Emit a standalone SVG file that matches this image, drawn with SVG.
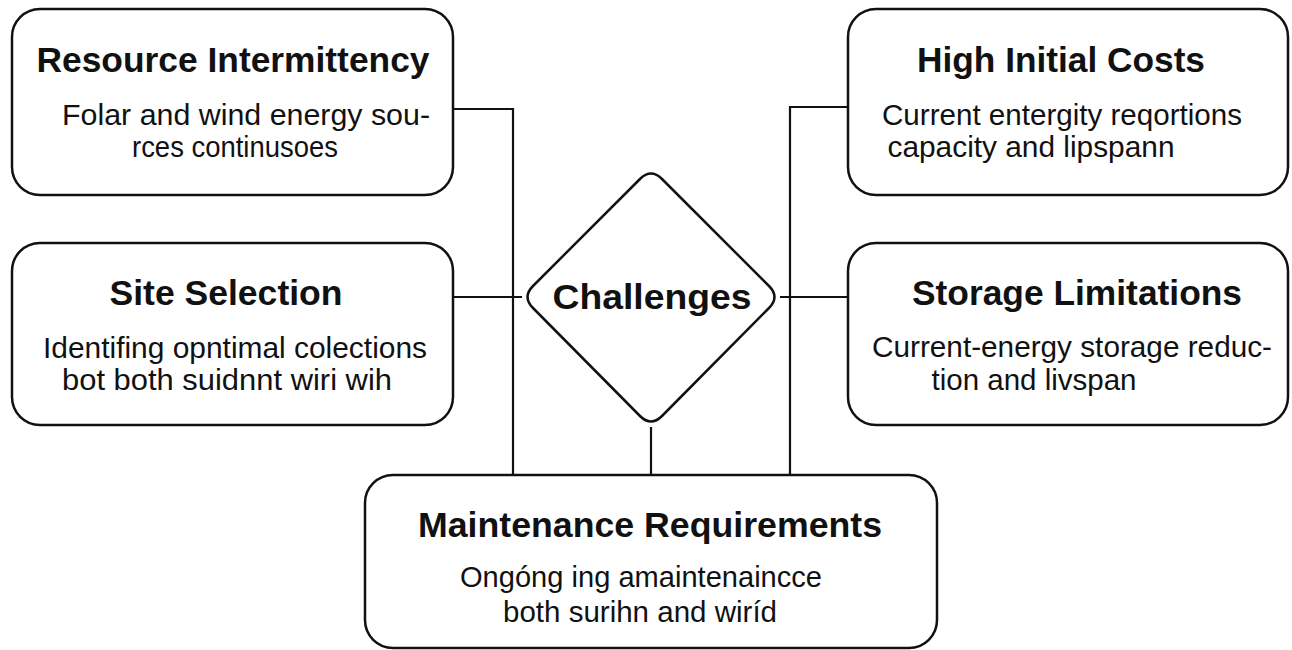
<svg xmlns="http://www.w3.org/2000/svg" width="1292" height="650" viewBox="0 0 1292 650">
<style>
.box{fill:#fff;stroke:#111;stroke-width:2.5}
.conn{fill:none;stroke:#111;stroke-width:2.2}
.t{font-family:"Liberation Sans",Arial,sans-serif;font-weight:bold;font-size:35px;fill:#111;text-anchor:middle}
.b{font-family:"Liberation Sans",Arial,sans-serif;font-size:30px;fill:#111;text-anchor:middle}
</style>
<rect width="1292" height="650" fill="#fff"/>
<g id="connectors">
<path class="conn" d="M453,109 H513 V475"/>
<path class="conn" d="M848,107 H790 V475"/>
<path class="conn" d="M453,297 H522"/>
<path class="conn" d="M780,297 H848"/>
<path class="conn" d="M651,427 V475"/>
</g>
<g id="resource-intermittency">
<rect class="box" x="12" y="9" width="441" height="186" rx="28"/>
<text class="t" x="233" y="72" textLength="393" lengthAdjust="spacingAndGlyphs">Resource Intermittency</text>
<text class="b" x="246" y="125" textLength="368" lengthAdjust="spacingAndGlyphs">Folar and wind energy sou-</text>
<text class="b" x="235" y="157" textLength="206" lengthAdjust="spacingAndGlyphs">rces continusoes</text>
</g>
<g id="high-initial-costs">
<rect class="box" x="848" y="9" width="440" height="186" rx="28"/>
<text class="t" x="1061" y="72" textLength="288" lengthAdjust="spacingAndGlyphs">High Initial Costs</text>
<text class="b" x="1062" y="125" textLength="360" lengthAdjust="spacingAndGlyphs">Current entergity reqortions</text>
<text class="b" x="1031" y="157" textLength="287" lengthAdjust="spacingAndGlyphs">capacity and lipspann</text>
</g>
<g id="site-selection">
<rect class="box" x="12" y="243" width="441" height="182" rx="28"/>
<text class="t" x="226" y="305" textLength="233" lengthAdjust="spacingAndGlyphs">Site Selection</text>
<text class="b" x="235" y="358" textLength="384" lengthAdjust="spacingAndGlyphs">Identifing opntimal colections</text>
<text class="b" x="227" y="390" textLength="330" lengthAdjust="spacingAndGlyphs">bot both suidnnt wiri wih</text>
</g>
<g id="storage-limitations">
<rect class="box" x="848" y="243" width="440" height="182" rx="28"/>
<text class="t" x="1077" y="305" textLength="330" lengthAdjust="spacingAndGlyphs">Storage Limitations</text>
<text class="b" x="1072" y="357" textLength="400" lengthAdjust="spacingAndGlyphs">Current-energy storage reduc-</text>
<text class="b" x="1034" y="390" textLength="205" lengthAdjust="spacingAndGlyphs">tion and livspan</text>
</g>
<g id="challenges">
<path class="box" d="M640,179 Q651,168 662,179 L769,286 Q780,297 769,308 L662,416 Q651,427 640,416 L533,308 Q522,297 533,286 Z"/>
<text class="t" x="652" y="309" textLength="199" lengthAdjust="spacingAndGlyphs">Challenges</text>
</g>
<g id="maintenance-requirements">
<rect class="box" x="365" y="475" width="572" height="173" rx="28"/>
<text class="t" x="650" y="537" textLength="464" lengthAdjust="spacingAndGlyphs">Maintenance Requirements</text>
<text class="b" x="641" y="587" textLength="362" lengthAdjust="spacingAndGlyphs">Ongóng ing amaintenaincce</text>
<text class="b" x="640" y="622" textLength="274" lengthAdjust="spacingAndGlyphs">both surihn and wiríd</text>
</g>
</svg>
